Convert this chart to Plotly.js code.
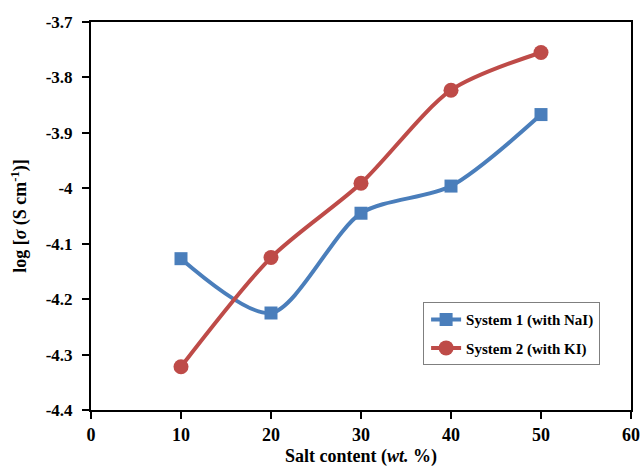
<!DOCTYPE html>
<html><head><meta charset="utf-8">
<script src="https://cdn.plot.ly/plotly-3.0.1.min.js"></script>
<style>html,body{margin:0;padding:0;background:#fff}#chart{width:644px;height:467px}</style>
</head><body><div id="chart"></div>
<script>
const saltContent = [10, 20, 30, 40, 50];
const system1NaI = [-4.127, -4.225, -4.045, -3.996, -3.867];
const system2KI = [-4.322, -4.125, -3.991, -3.823, -3.755];
const seriesNames = ['System 1 (with NaI)', 'System 2 (with KI)'];
const xTicks = [0, 10, 20, 30, 40, 50, 60];
const yTicks = [-4.4, -4.3, -4.2, -4.1, -4, -3.9, -3.8, -3.7];

const font = {family: 'Liberation Serif, Times New Roman, serif', color: '#000'};
const traces = [
  {x: saltContent, y: system1NaI, name: seriesNames[0], legendgroup: 'g1', type: 'scatter', mode: 'lines+markers',
   line: {color: '#4A7EBB', width: 4, shape: 'spline', smoothing: 0.8},
   marker: {symbol: 'square', size: 13, color: '#4A7EBB'}},
  {x: saltContent, y: system2KI, name: seriesNames[1], legendgroup: 'g2', type: 'scatter', mode: 'lines+markers',
   line: {color: '#BE4B48', width: 4, shape: 'spline', smoothing: 0.8},
   marker: {symbol: 'circle', size: 15, color: '#BE4B48'}}
];
const layout = {
  width: 644, height: 467,
  margin: {l: 91, r: 13, t: 22, b: 57},
  paper_bgcolor: '#fff', plot_bgcolor: '#fff',
  showlegend: true,
  legend: {x: 0.615, y: 0.278, xanchor: 'left', yanchor: 'top', bgcolor: '#fff',
    bordercolor: '#7f7f7f', borderwidth: 1, entrywidth: 190, indentation: 2,
    font: {family: font.family, size: 15, color: '#000', weight: 'bold'}, tracegroupgap: 6},
  xaxis: {range: [0, 60], tickvals: xTicks, ticktext: xTicks.map(String),
    showgrid: false, zeroline: false, showline: true, linecolor: '#000', linewidth: 2,
    mirror: true, ticks: 'outside', ticklen: 7, tickwidth: 2, tickcolor: '#000',
    tickfont: {family: font.family, size: 18, color: '#000', weight: 'bold'},
    title: {text: 'Salt content (<i>wt.</i> %)', standoff: 12,
      font: {family: font.family, size: 18, color: '#000', weight: 'bold'}}},
  yaxis: {range: [-4.4, -3.7], tickvals: yTicks, ticktext: yTicks.map(String),
    showgrid: false, zeroline: false, showline: true, linecolor: '#000', linewidth: 2,
    mirror: true, ticks: 'outside', ticklen: 7, tickwidth: 2, tickcolor: '#000', ticklabelstandoff: 6,
    tickfont: {family: font.family, size: 17, color: '#000', weight: 'bold'},
    title: {text: 'log [<i>σ</i> (S cm<sup>-1</sup>)]', standoff: 14,
      font: {family: font.family, size: 18, color: '#000', weight: 'bold'}}}
};
Plotly.newPlot('chart', traces, layout, {displayModeBar: false, staticPlot: true});
</script></body></html>
